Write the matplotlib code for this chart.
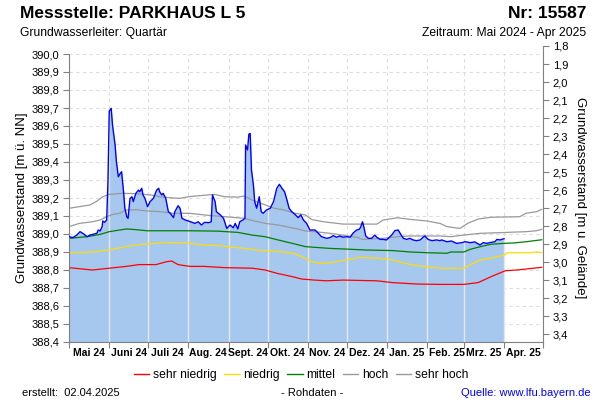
import matplotlib
matplotlib.use("Agg")
import matplotlib.pyplot as plt
import matplotlib.dates as mdates
from matplotlib.lines import Line2D
from matplotlib.ticker import FuncFormatter, MultipleLocator
import numpy as np
import pandas as pd

plt.rcParams["font.family"] = ["Liberation Sans", "DejaVu Sans"]

start = pd.Timestamp("2024-05-01")
end = pd.Timestamp("2025-05-01")

# Messwerte: Tage seit 01.05.2024 und Wasserstand [m ü. NN]
mess_tage = [0, 3, 6, 8.5, 11, 14, 16, 18.5, 21.5, 22.5, 24, 25.5, 26, 27.5, 29,
             30, 31, 32.5, 33.5, 35.5, 36.5, 38, 39.5, 40.5, 42, 43, 44.5, 45.5,
             47, 48.5, 49.5, 51.5, 53.5, 54.5, 56, 57, 58.5, 60.5, 62.5, 65, 67.5,
             69, 70, 71.5, 72.5, 74.5, 76.5, 78, 80.5, 81.5, 84, 85.5, 87, 89.5,
             92, 97, 99.5, 102, 104.5, 107.5, 109.5, 110.5, 112.5, 113.5, 116.5,
             119, 121.5, 124, 126.5, 128, 130, 131.5, 134, 135.5, 136, 137.5,
             138.5, 139.5, 140.5, 142, 143, 144.5, 146.5, 148, 149.5, 152, 155,
             157.5, 160, 162, 164, 166, 167.5, 169.5, 171.5, 174, 176.5, 178.5,
             180.5, 183, 185.5, 189.5, 192, 194.5, 198.5, 201, 203.5, 206, 208.5,
             211, 214, 216.5, 219, 221.5, 223.5, 224.5, 226, 227, 228.5, 230.5,
             233, 235.5, 237, 239.5, 242, 244.5, 248.5, 251, 253.5, 255.5, 257.5,
             260, 262.5, 265, 267.5, 270.5, 272.5, 274, 276.5, 279.5, 283, 285.5,
             287, 291, 294.5, 298.5, 302.5, 305, 309, 312.5, 316.5, 319, 321.5,
             325.5, 328, 329.5, 332, 335]
mess_werte = [388.985, 388.980, 388.994, 389.013, 389.002, 388.985, 388.994,
              388.998, 389.004, 389.022, 389.017, 389.041, 389.072, 389.065,
              389.078, 389.291, 389.683, 389.698, 389.606, 389.494, 389.402,
              389.318, 389.337, 389.346, 389.235, 389.143, 389.096, 389.087,
              389.198, 389.207, 389.180, 389.226, 389.244, 389.235, 389.254,
              389.217, 389.198, 389.152, 389.180, 389.198, 389.244, 389.254,
              389.232, 389.217, 389.226, 389.198, 389.124, 389.115, 389.091,
              389.124, 389.157, 389.143, 389.087, 389.078, 389.072, 389.059,
              389.068, 389.050, 389.065, 389.063, 389.068, 389.217, 389.180,
              389.124, 389.106, 389.087, 389.031, 389.050, 389.035, 389.059,
              389.028, 389.068, 389.078, 389.087, 389.494, 389.467, 389.554,
              389.559, 389.356, 389.272, 389.180, 389.143, 389.207, 389.124,
              389.115, 389.133, 389.143, 389.180, 389.254, 389.276, 389.254,
              389.235, 389.198, 389.143, 389.124, 389.109, 389.091, 389.106,
              389.078, 389.059, 389.022, 389.022, 389.004, 388.985, 388.976,
              388.980, 388.991, 388.982, 388.989, 388.982, 388.985, 388.982,
              389.007, 389.022, 389.026, 389.037, 389.068, 389.041, 388.989,
              388.976, 388.976, 388.994, 388.982, 388.970, 388.970, 388.967,
              388.994, 389.019, 389.022, 388.998, 388.976, 388.970, 388.976,
              388.967, 388.963, 388.967, 388.981, 388.989, 388.970, 388.963,
              388.967, 388.963, 388.967, 388.957, 388.961, 388.948, 388.952,
              388.957, 388.952, 388.956, 388.939, 388.952, 388.948, 388.954,
              388.957, 388.970, 388.967, 388.974]

# Kennwerte (Tageswerte)
sn_datum = ["2024-05-01", "2024-05-19", "2024-06-01", "2024-06-14", "2024-06-24",
            "2024-07-07", "2024-07-15", "2024-07-19", "2024-07-24", "2024-08-02",
            "2024-08-13", "2024-08-29", "2024-09-19", "2024-09-29", "2024-10-09",
            "2024-10-20", "2024-10-27", "2024-11-06", "2024-11-15", "2024-11-28",
            "2024-12-24", "2025-01-05", "2025-01-24", "2025-02-11", "2025-03-01",
            "2025-03-12", "2025-03-22", "2025-04-02", "2025-04-11", "2025-04-30"]
sn_werte = [388.813, 388.800, 388.810, 388.820, 388.830, 388.830, 388.846, 388.850,
            388.830, 388.820, 388.820, 388.813, 388.810, 388.800, 388.780, 388.763,
            388.750, 388.744, 388.740, 388.744, 388.740, 388.730, 388.722, 388.720,
            388.720, 388.730, 388.763, 388.796, 388.800, 388.815]

n_datum = ["2024-05-01", "2024-05-19", "2024-06-01", "2024-06-14", "2024-06-27",
           "2024-07-15", "2024-07-25", "2024-08-02", "2024-08-13", "2024-08-23",
           "2024-09-08", "2024-09-23", "2024-10-04", "2024-10-14", "2024-10-22",
           "2024-10-30", "2024-11-03", "2024-11-13", "2024-11-23", "2024-12-03",
           "2024-12-11", "2024-12-24", "2025-01-05", "2025-01-19", "2025-01-29",
           "2025-02-11", "2025-03-01", "2025-03-06", "2025-03-14", "2025-03-22",
           "2025-04-01", "2025-04-04", "2025-04-21", "2025-04-26", "2025-04-30"]
n_werte = [388.896, 388.900, 388.911, 388.930, 388.943, 388.952, 388.952, 388.948,
           388.939, 388.936, 388.924, 388.911, 388.905, 388.900, 388.890, 388.865,
           388.847, 388.837, 388.846, 388.859, 388.870, 388.866, 388.856, 388.830,
           388.820, 388.810, 388.810, 388.830, 388.856, 388.865, 388.883, 388.896,
           388.896, 388.900, 388.897]

m_datum = ["2024-05-01", "2024-05-15", "2024-05-25", "2024-06-01", "2024-06-09",
           "2024-06-14", "2024-06-22", "2024-06-30", "2024-08-02", "2024-08-23",
           "2024-09-08", "2024-09-19", "2024-09-29", "2024-10-09", "2024-10-20",
           "2024-10-30", "2024-11-06", "2024-11-18", "2024-11-28", "2024-12-16",
           "2025-01-05", "2025-01-19", "2025-02-01", "2025-02-16", "2025-02-19",
           "2025-03-01", "2025-03-06", "2025-03-14", "2025-03-22", "2025-04-01",
           "2025-04-08", "2025-04-18", "2025-04-30"]
m_werte = [388.976, 388.985, 388.998, 389.013, 389.022, 389.028, 389.024, 389.018,
           389.018, 389.016, 389.009, 388.994, 388.985, 388.967, 388.948, 388.930,
           388.926, 388.920, 388.917, 388.911, 388.908, 388.900, 388.896, 388.893,
           388.900, 388.900, 388.915, 388.930, 388.943, 388.948, 388.950, 388.957,
           388.968]

h_datum = ["2024-05-01", "2024-05-09", "2024-05-19", "2024-05-25", "2024-05-30",
           "2024-06-04", "2024-06-09", "2024-06-14", "2024-06-22", "2024-06-30",
           "2024-07-10", "2024-07-20", "2024-08-02", "2024-08-13", "2024-08-29",
           "2024-09-13", "2024-09-21", "2024-09-29", "2024-10-09", "2024-10-22",
           "2024-10-30", "2024-11-06", "2024-11-18", "2024-12-09", "2024-12-13",
           "2024-12-29", "2025-01-09", "2025-01-19", "2025-02-11", "2025-02-19",
           "2025-03-01", "2025-03-14", "2025-03-27", "2025-04-18", "2025-04-26",
           "2025-04-30"]
h_werte = [389.041, 389.059, 389.068, 389.078, 389.096, 389.109, 389.115, 389.133,
           389.135, 389.128, 389.124, 389.115, 389.115, 389.106, 389.096, 389.087,
           389.072, 389.059, 389.050, 389.031, 389.017, 389.013, 389.004, 388.981,
           388.970, 388.976, 388.985, 388.989, 388.989, 388.985, 388.994, 389.004,
           389.007, 389.013, 389.018, 389.026]

sh_datum = ["2024-05-01", "2024-05-09", "2024-05-17", "2024-05-22", "2024-05-27",
            "2024-06-01", "2024-06-11", "2024-06-22", "2024-07-03", "2024-07-10",
            "2024-07-20", "2024-07-25", "2024-08-02", "2024-08-16", "2024-08-21",
            "2024-08-29", "2024-09-08", "2024-09-13", "2024-09-19", "2024-09-26",
            "2024-10-06", "2024-10-14", "2024-10-22", "2024-10-30", "2024-11-04",
            "2024-11-13", "2024-11-28", "2024-12-24", "2024-12-29", "2025-01-09",
            "2025-01-19", "2025-02-01", "2025-02-11", "2025-02-16", "2025-02-26",
            "2025-03-04", "2025-03-12", "2025-03-22", "2025-04-13", "2025-04-18",
            "2025-04-26", "2025-04-30"]
sh_werte = [389.143, 389.152, 389.161, 389.180, 389.207, 389.220, 389.226, 389.224,
            389.217, 389.207, 389.200, 389.198, 389.208, 389.217, 389.220, 389.207,
            389.205, 389.211, 389.189, 389.170, 389.143, 389.133, 389.115, 389.106,
            389.080, 389.068, 389.055, 389.055, 389.078, 389.090, 389.081, 389.072,
            389.058, 389.041, 389.031, 389.059, 389.083, 389.093, 389.096, 389.115,
            389.124, 389.137]

monate = ["Mai 24", "Juni 24", "Juli 24", "Aug. 24", "Sept. 24", "Okt. 24",
          "Nov. 24", "Dez. 24", "Jan. 25", "Feb. 25", "Mrz. 25", "Apr. 25"]

gelaende = 391.844  # Geländehöhe [m ü. NN] für rechte Achse
y_min, y_max = 388.4, 390.0

mess_x = start + pd.to_timedelta(mess_tage, unit="D")

fig = plt.figure(figsize=(6, 4), dpi=100)
ax = fig.add_axes([69 / 600, 58 / 400, 474 / 600, 288 / 400])
ax.set_xlim(start, end)
ax.set_ylim(y_min, y_max)

grau = "#808080"
ax.grid(True, which="major", color="#dddddd", linestyle=(0, (3, 3)), linewidth=0.8, zorder=0)
ax.set_axisbelow(True)

ax.fill_between(mess_x, mess_werte, y_min, color="#a6c8ef", linewidth=0, zorder=1)

# helle Monatslinien innerhalb der Fläche
grenzen = pd.date_range("2024-06-01", "2025-04-01", freq="MS")
xnum = mdates.date2num(mess_x)
gnum = mdates.date2num(grenzen)
ax.vlines(grenzen, y_min, np.interp(gnum, xnum, mess_werte), color="#e6e6e6",
          linewidth=1.0, zorder=1.5)

ax.plot(pd.to_datetime(sn_datum), sn_werte, color="#ff0000", lw=0.9, zorder=2)
ax.plot(pd.to_datetime(n_datum), n_werte, color="#ffdd00", lw=0.9, zorder=2)
ax.plot(pd.to_datetime(m_datum), m_werte, color="#008000", lw=0.9, zorder=2)
ax.plot(pd.to_datetime(h_datum), h_werte, color="#999999", lw=0.9, zorder=2)
ax.plot(pd.to_datetime(sh_datum), sh_werte, color="#999999", lw=0.9, zorder=2)
ax.plot(mess_x, mess_werte, color="#0000ff", lw=1.0, zorder=3)

# Achsen
ax.yaxis.set_major_locator(MultipleLocator(0.1))
ax.yaxis.set_major_formatter(FuncFormatter(lambda v, p: f"{v:.1f}".replace(".", ",")))
ax.tick_params(axis="y", which="major", length=4, color=grau, labelsize=8, pad=3)
ax.xaxis.set_major_locator(mdates.MonthLocator())
ax.xaxis.set_major_formatter(plt.NullFormatter())
mitten = pd.date_range(start, periods=12, freq="MS") + pd.Timedelta(days=15)
ax.set_xticks(mitten, minor=True)
ax.set_xticklabels(monate, minor=True, fontsize=7.5, fontweight="bold")
ax.tick_params(axis="x", which="major", length=4, color=grau)
ax.tick_params(axis="x", which="minor", length=0, pad=4)
for s in ["top", "right"]:
    ax.spines[s].set_visible(False)
for s in ["left", "bottom"]:
    ax.spines[s].set_color(grau)

# rechte Achse (m u. Gelände), etwas nach oben versetzt
ax2 = fig.add_axes([69 / 600, 58 / 400, 474 / 600, 296 / 400])
ax2.patch.set_visible(False)
ax2.set_ylim(gelaende - y_min, 1.8)
ax2.xaxis.set_visible(False)
for s in ["top", "left", "bottom"]:
    ax2.spines[s].set_visible(False)
ax2.spines["right"].set_color(grau)
ax2.yaxis.tick_right()
ax2.yaxis.set_major_locator(MultipleLocator(0.1))
ax2.yaxis.set_major_formatter(FuncFormatter(lambda v, p: f"{v:.1f}".replace(".", ",")))
ax2.tick_params(axis="y", length=4, color=grau, labelsize=8, pad=3)

fig.text(22 / 600, 0.505, "Grundwasserstand [m ü. NN]", rotation=90,
         ha="center", va="center", fontsize=9.5)
fig.text(580 / 600, 0.505, "Grundwasserstand [m u. Gelände]", rotation=270,
         ha="center", va="center", fontsize=9.5)

# Titel
fig.text(20 / 600, 1 - 14 / 400, "Messstelle: PARKHAUS L 5", ha="left", va="center",
         fontsize=12.5, fontweight="bold")
fig.text(586 / 600, 1 - 14 / 400, "Nr: 15587", ha="right", va="center",
         fontsize=12.5, fontweight="bold")
fig.text(20 / 600, 1 - 33 / 400, "Grundwasserleiter: Quartär", ha="left", va="center",
         fontsize=8.7)
fig.text(586 / 600, 1 - 33 / 400, "Zeitraum: Mai 2024 - Apr 2025", ha="right",
         va="center", fontsize=8.7)

# Legende
namen = ["sehr niedrig", "niedrig", "mittel", "hoch", "sehr hoch"]
farben = ["#ff0000", "#ffdd00", "#008000", "#999999", "#999999"]
handles = [Line2D([], [], color=c, lw=1.0) for c in farben]
fig.legend(handles, namen, loc="center", bbox_to_anchor=(301 / 600, 1 - 375 / 400),
           ncol=5, frameon=False, fontsize=8.7, handlelength=1.3,
           handletextpad=0.3, columnspacing=0.6)

fig.text(22 / 600, 1 - 393 / 400, "erstellt:  02.04.2025", ha="left", va="center",
         fontsize=8)
fig.text(312 / 600, 1 - 393 / 400, "- Rohdaten -", ha="center", va="center", fontsize=8)
fig.text(591 / 600, 1 - 393 / 400, "Quelle: www.lfu.bayern.de", ha="right",
         va="center", fontsize=8, color="#0000ff")

fig.savefig("out.png", dpi=100)
